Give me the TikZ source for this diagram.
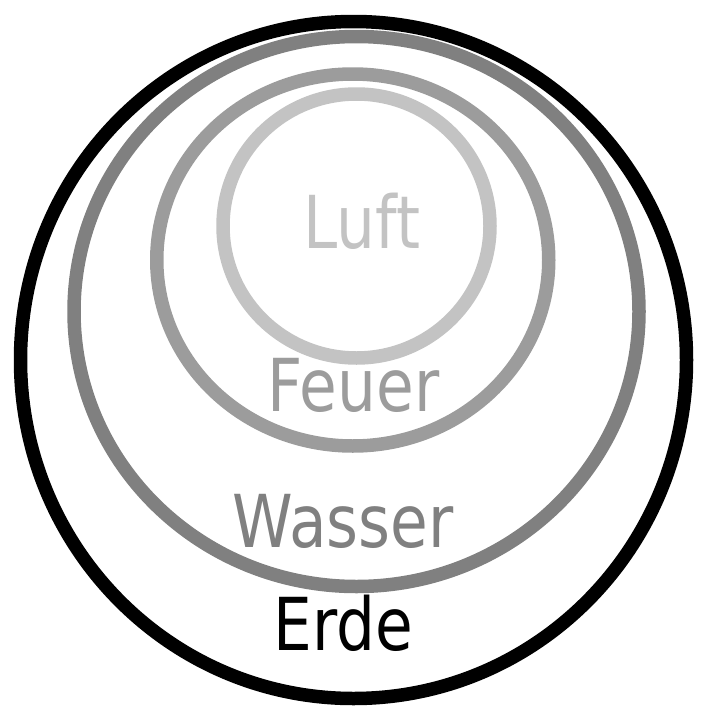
\documentclass[tikz,border=0pt]{standalone}
\usepackage{fontspec}
\usepackage{graphicx}
\setmainfont{DejaVu Sans}

\definecolor{erdecol}{HTML}{000000}
\definecolor{wassercol}{HTML}{808080}
\definecolor{feuercol}{HTML}{9C9C9C}
\definecolor{luftcol}{HTML}{C3C3C3}

\newcommand{\elemtext}[1]{\scalebox{0.84}[1]{#1}}

\begin{document}
\begin{tikzpicture}[x=1pt,y=-1pt]

        \useasboundingbox (0,0) rectangle (704,707);

        \begin{scope}[line width=13.5pt]
          \draw[erdecol]   (353.5,360) ellipse [x radius=333, y radius=338.5];
          \draw[wassercol] (356.5,311.5) ellipse [x radius=282.5, y radius=275];
          \draw[feuercol]  (352.75,260) ellipse [x radius=196, y radius=186];
          \draw[luftcol]   (356.5,226) ellipse [x radius=133.5, y radius=132];
        \end{scope}

        \begin{scope}[every node/.style={anchor=base,inner sep=0pt,font=\fontsize{73}{80}\selectfont}]
          \node[text=luftcol]   (luft)   at (362,248)   {\elemtext{Luft}};
          \node[text=feuercol]  (feuer)  at (353.5,411) {\elemtext{Feuer}};
          \node[text=wassercol] (wasser) at (343,547)   {\elemtext{Wasser}};
          \node[text=erdecol]   (erde)   at (343.5,650) {\elemtext{Erde}};
        \end{scope}

      \end{tikzpicture}
\end{document}
